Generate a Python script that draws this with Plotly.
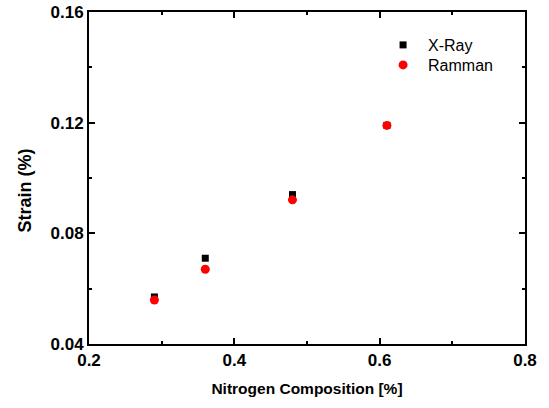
import plotly.graph_objects as go

composition = [0.29, 0.36, 0.48, 0.61]
xray_strain = [0.0570, 0.0710, 0.0940, 0.1190]
raman_strain = [0.0559, 0.0670, 0.0921, 0.1190]

x_ticks = [0.2, 0.4, 0.6, 0.8]
y_ticks = [0.04, 0.08, 0.12, 0.16]

FONT = "Liberation Sans, Arial"

fig = go.Figure()
fig.add_trace(go.Scatter(x=composition, y=xray_strain, mode="markers", name="X-Ray",
                         marker=dict(symbol="square", size=7, color="black"),
                         legend="legend", showlegend=True))
fig.add_trace(go.Scatter(x=composition, y=raman_strain, mode="markers", name="Ramman",
                         marker=dict(symbol="circle", size=9, color="#ff0000"),
                         legend="legend2", showlegend=True))

axis_common = dict(showline=True, linecolor="black", linewidth=2, mirror="allticks",
                   ticks="inside", ticklen=6, tickwidth=2, tickcolor="black",
                   showgrid=False, zeroline=False, automargin=False,
                   ticklabeloverflow="allow",
                   tickfont=dict(family=FONT, size=17, color="black"))

fig.update_xaxes(range=[0.2, 0.8], tickvals=x_ticks, ticktext=[f"<b>{v:.1f}</b>" for v in x_ticks],
                 minor=dict(ticks="inside", ticklen=3, tickwidth=2, tickcolor="black", tick0=0.3, dtick=0.2, showgrid=False),
                 title=dict(text="<b>Nitrogen Composition [%]</b>", font=dict(family=FONT, size=15.5, color="black"), standoff=14),
                 **axis_common)
fig.update_yaxes(range=[0.04, 0.16], tickvals=y_ticks, ticktext=[f"<b>{v:.2f}</b>" for v in y_ticks],
                 minor=dict(ticks="inside", ticklen=3, tickwidth=2, tickcolor="black", tick0=0.06, dtick=0.04, showgrid=False),
                 **axis_common)

fig.add_annotation(text="<b>Strain (%)</b>", xref="paper", yref="paper", x=-0.147, y=0.4623,
                   xanchor="center", yanchor="middle", textangle=-90, showarrow=False,
                   font=dict(family=FONT, size=18, color="black"))

legend_style = dict(xanchor="left", yanchor="top", font=dict(family=FONT, size=16, color="black"),
                    bgcolor="rgba(0,0,0,0)", itemwidth=40)

fig.update_layout(width=549, height=408, margin=dict(l=89, r=24, t=12, b=64),
                  plot_bgcolor="white", paper_bgcolor="white", showlegend=True,
                  legend=dict(x=0.663, y=0.9518, **legend_style),
                  legend2=dict(x=0.663, y=0.8916, **legend_style))

fig.write_html("out.html", config={"displayModeBar": False},
               post_script="document.body.style.margin='0';")
